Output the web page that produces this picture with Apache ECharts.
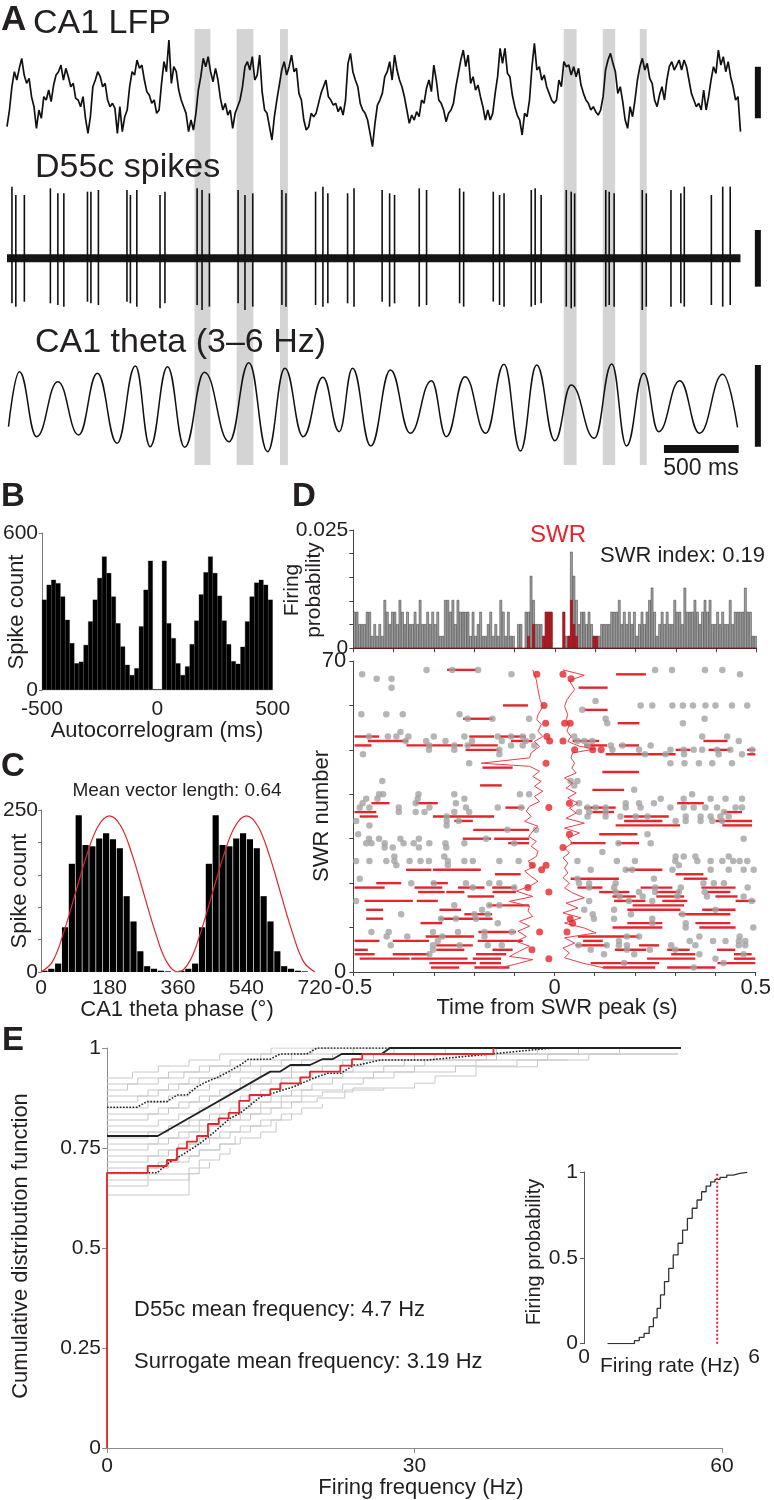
<!DOCTYPE html>
<html><head><meta charset="utf-8">
<script src="https://cdn.jsdelivr.net/npm/echarts@6/dist/echarts.min.js"></script>
<style>html,body{margin:0;padding:0;background:#fff}#c{width:774px;height:1500px}</style>
</head><body><div id="c"></div>
<script>
// ---------------- DATA ----------------
// Panel A: CA1 LFP samples (arbitrary uV units), one every lfpDt ms
const lfpDt = 16.4;
const lfp = [-80,-30,40,85,60,95,125,75,50,65,10,-20,-85,-30,-55,10,0,30,-5,45,
75,85,105,60,95,70,40,50,5,0,-20,10,-55,-100,-50,40,60,85,70,40,
50,0,-20,-10,-25,-100,-20,-95,-50,-30,40,85,75,120,95,105,60,25,15,-10,
0,-40,-30,50,115,85,180,50,100,85,30,0,-20,-40,-95,-60,-90,-40,30,70,
125,100,130,85,55,95,60,5,-30,-10,-45,-30,-85,-40,-20,0,40,100,115,90,
130,60,75,135,25,-30,-40,-80,-120,-50,0,45,90,115,75,100,135,85,95,20,
0,-60,-90,-80,-40,-50,-40,-10,20,40,60,10,0,-15,-10,-35,-20,-45,0,110,
140,85,60,40,-10,-30,-40,-60,-100,-140,-70,-15,0,20,70,85,115,60,135,90,
60,40,10,-30,-70,-45,-60,-35,-50,0,-10,35,60,25,105,60,0,-10,-30,-65,
-40,-30,-10,40,80,120,150,100,135,50,70,30,45,10,-20,-60,-30,-60,-40,20,
70,155,110,155,80,70,15,-20,-45,-60,-105,-40,-50,0,100,170,90,100,60,75,
40,20,0,-10,0,60,40,115,100,105,75,100,70,95,45,20,0,-10,-30,-20,
-35,-45,-30,10,90,120,140,110,85,20,40,-5,-60,-85,-20,-50,0,60,100,125,
90,110,65,50,0,-20,15,40,0,60,100,115,90,105,120,90,120,100,60,20,
0,-20,-10,-30,30,-30,10,60,100,80,150,105,130,85,115,70,40,0,10,-95];
// D55c spikes: time (ms), upward and downward deflection
const spikeT = [33,59,116,290,340,380,538,561,611,802,825,868,1023,1056,1271,1304,1353,1545,1591,1643,1838,1865,2063,2112,2145,2277,2320,2508,2558,2591,2756,2805,3026,3053,3251,3293,3323,3505,3531,3571,3739,3772,3795,4003,4026,4059,4247,4274,4439,4505,4528,4709,4785,4835];
const spikeUp = [215,190,190,210,195,195,200,200,205,205,190,205,190,200,210,205,195,205,190,195,205,195,200,215,195,195,210,205,195,190,210,205,210,200,200,190,195,205,210,190,205,200,195,205,200,195,205,195,205,195,215,190,215,215];
const spikeDown = [-135,-145,-130,-135,-140,-145,-130,-135,-140,-130,-135,-145,-150,-135,-140,-155,-145,-135,-155,-145,-140,-145,-140,-145,-135,-135,-145,-130,-145,-135,-145,-140,-135,-145,-130,-140,-145,-145,-140,-135,-145,-150,-145,-145,-140,-145,-155,-145,-145,-135,-145,-140,-145,-140];
// CA1 theta: peaks and troughs [ms, value]
const theta = [[10,-55],[83,110],[198,-85],[340,80],[479,-80],[604,105],[736,-105],[858,127],[957,-115],[1073,125],[1188,-117],[1320,108],[1485,-100],[1617,137],[1742,-130],[1858,120],[1980,-85],[2112,93],[2221,-70],[2310,120],[2432,-113],[2564,115],[2696,-75],[2838,83],[2937,-85],[3062,95],[3201,-75],[3323,132],[3432,-128],[3541,130],[3663,-97],[3772,70],[3927,-90],[4043,133],[4142,-113],[4257,105],[4356,-70],[4498,83],[4630,-75],[4785,102],[4884,-57]];
// SWR windows (grey bands) [start ms, end ms]
const swrBands = [[1254,1360],[1535,1647],[1825,1878],[3722,3808],[3983,4066],[4231,4277]];
// scale bars
const barT = 5020;               // x position of vertical scale bars (ms)
const lfpBar = [100,-55], spikeBar = [85,-85], thetaBar = [130,-115];
const msBarStart = 4392, msBarLen = 500, msBarLevel = -122;

// Panel B: autocorrelogram, 20 ms bins from -500 to 500
const acg = [345,402,421,408,357,268,179,102,108,172,262,345,428,510,447,357,255,166,96,57,83,243,383,494,3,
3,494,255,198,102,57,90,175,265,365,450,510,447,360,265,175,110,100,165,262,357,410,421,402,345];

// Panel C: phase histogram, 18 degree bins over one cycle (plotted twice)
const phaseHist = [2,5,13,69,167,242,196,194,206,214,205,191,117,78,32,9,5,2,1,0];
const thetaRef = [[0,0],[30,16],[60,62],[90,121],[120,180],[150,225],[180,241],[210,225],[240,180],[270,121],[300,62],[330,16],[360,0],[390,16],[420,62],[450,121],[480,180],[510,225],[540,241],[570,225],[600,180],[630,121],[660,62],[690,16],[720,0]];

// Panel D: peri-SWR firing probability, 160 bins (-0.5..0.5 s)
const swrProb = [.0077,.0077,.0051,.0051,.0051,.0077,.0077,.0026,.0051,.0026,
.0051,.0026,.0102,.0077,.0051,.0077,.0077,.0051,.0102,.0077,
.0051,.0077,.0051,.0051,.0077,.0051,.0102,.0051,.0051,.0077,
.0051,.0077,.0051,.0077,.0026,.0026,.0102,.0102,.0077,.0102,
.0051,.0102,.0077,.0077,.0077,.0077,.0026,.0077,.0026,.0051,
.0077,.0026,.0026,.0051,.0077,.0026,.0051,.0026,.0102,.0077,
.0026,.0077,.0026,.0026,0,.0051,.0051,0,.0077,.0077,
.0153,.0102,.0051,.0051,.0051,.0026,.0077,.0077,.0077,0,
0,0,0,.0077,.0026,.0026,.0204,.0153,.0102,.0051,
.0077,.0077,.0051,.0077,.0051,.0026,.0026,.0026,.0051,.0051,
.0051,.0051,.0077,.0077,.0077,.0102,.0051,.0077,.0051,.0077,
.0051,.0077,.0026,.0051,.0077,.0051,.0077,.0102,.0128,.0077,
.0026,.0051,.0077,.0051,.0077,.0051,.0051,.0102,.0077,.0077,
.0051,.0128,.0077,.0077,.0077,.0102,.0077,.0051,.0077,.0102,
.0077,.0102,.0051,.0051,.0077,.0051,.0077,.0051,.0051,.0102,
.0051,.0077,.0077,.0077,.0077,.0128,.0077,.0077,.0026,.0026];
const swrProbIn = [0,0,0,0,0,0,0,0,0,0, 0,0,0,0,0,0,0,0,0,0, 0,0,0,0,0,0,0,0,0,0, 0,0,0,0,0,0,0,0,0,0,
0,0,0,0,0,0,0,0,0,0, 0,0,0,0,0,0,0,0,0,0, 0,0,0,0,0,0,0,0,0,.0026,
0,.0051,0,0,0,.0026,.0077,.0077,.0077,0, 0,0,0,.0077,0,.0026,.0102,.0051,.0026,0,
0,0,0,0,0,.0026,.0026,0,0,0, 0,0,0,0,0,0,0,0,0,0, 0,0,0,0,0,0,0,0,0,0,
0,0,0,0,0,0,0,0,0,0, 0,0,0,0,0,0,0,0,0,0, 0,0,0,0,0,0,0,0,0,0, 0,0,0,0,0,0,0,0,0,0];
// raster: spikes outside SWRs [t, SWR#]
const rasterGrey = [[-0.318,68],[-0.254,68],[-0.19,68],[0.25,68],[0.292,68],[0.374,68],[0.417,68],
[-0.478,67],[-0.107,67],[0.461,67],[-0.442,66],[-0.405,66],[-0.405,64],[0.102,61],
[0.214,60],[0.243,60],[0.293,60],[0.319,60],[0.344,60],[0.375,60],[0.4,60],[0.441,60],[0.479,60],[0.069,59],
[-0.48,58],[-0.418,58],[-0.377,58],[-0.236,58],
[-0.216,57],[-0.154,57],[-0.063,57],[0.127,57],[0.373,57],[0.131,56],[0.319,56],[-0.383,54],
[-0.461,53],[-0.414,53],[-0.393,53],[-0.363,53],[-0.3,53],[-0.224,53],[-0.141,53],[-0.108,53],[-0.079,53],[-0.055,53],[0.049,53],[0.367,53],[0.429,53],
[-0.37,52],[-0.319,52],[-0.271,52],[-0.205,52],[-0.131,52],[-0.071,52],[0.057,52],[0.074,52],[0.094,52],[0.458,52],
[-0.311,51],[-0.249,51],[-0.216,51],[-0.108,51],[-0.079,51],[-0.05,51],[0.082,51],[0.14,51],[0.169,51],[0.239,51],
[-0.312,50],[-0.249,50],[-0.137,50],[0.144,50],[0.21,50],[0.288,50],[0.321,50],[0.346,50],[0.367,50],[0.404,50],[0.437,50],[0.491,50],
[-0.476,49],[-0.137,49],[0.225,49],[0.276,49],[0.322,49],[0.408,49],[0.466,49],
[-0.212,47],[0.288,47],[0.323,47],[0.359,47],[0.392,47],[0.441,47],
[-0.428,43],[0.04,43],[0.057,43],[0.049,42],[0.198,41],
[-0.436,40],[-0.426,40],[-0.338,40],[-0.249,40],[-0.086,40],[-0.063,40],[0.342,40],
[-0.468,39],[-0.44,39],[-0.34,39],[-0.224,39],[0.264,39],[0.321,39],[0.388,39],[0.425,39],[0.466,39],
[-0.477,38],[-0.345,38],[-0.245,38],[0.061,38],[0.177,38],[0.21,38],[0.247,38],
[-0.484,37],[-0.46,37],[-0.387,37],[-0.311,37],[-0.22,37],[-0.141,37],[-0.083,37],[0.082,37],[0.102,37],[0.127,37],[0.177,37],[0.214,37],[0.288,37],[0.321,37],[0.346,37],[0.375,37],[0.404,37],[0.45,37],[0.466,37],
[-0.387,36],[-0.345,36],[-0.323,36],[-0.249,36],[-0.212,36],[0.061,36],[0.086,36],[0.127,36],[0.421,36],
[-0.268,35],[0.082,35],[0.127,35],[0.164,35],[0.202,35],[0.231,35],[0.326,35],[0.363,35],[0.388,35],[0.412,35],[0.433,35],
[-0.493,34],[-0.268,34],[-0.238,34],[0.301,34],[0.326,34],[0.363,34],[0.392,34],[0.417,34],
[-0.46,33],[-0.268,33],[-0.117,32],[-0.046,32],[-0.488,31],[0.231,31],
[-0.461,30],[-0.436,30],[-0.383,30],[-0.337,30],[-0.17,30],[0.47,30],
[-0.468,29],[-0.455,29],[-0.422,29],[-0.375,29],[-0.35,29],[-0.311,29],[-0.271,29],[-0.224,29],[-0.1,29],[0.159,29],[0.239,29],
[-0.422,28],[-0.402,28],[-0.337,28],[-0.269,28],[0.119,27],
[-0.398,26],[-0.274,26],[0.301,26],[0.321,26],[0.35,26],[0.433,26],
[-0.493,25],[-0.46,25],[-0.418,25],[-0.398,25],[-0.36,25],[-0.333,25],[-0.312,25],[-0.265,25],[-0.224,25],[-0.203,25],[-0.137,25],[-0.089,25],[0.057,25],[0.155,25],[0.2,25],[0.3,25],[0.355,25],[0.388,25],[0.417,25],[0.444,25],[0.46,25],[0.479,25],
[-0.393,24],[-0.265,24],[0.309,24],
[0.09,23],[0.177,23],[0.193,23],[0.293,23],[0.388,23],[0.433,23],[0.47,23],[0.495,23],
[-0.484,21],[0.057,21],[0.247,21],
[-0.356,20],[-0.3,20],[-0.22,20],[-0.162,20],[-0.137,20],[0.061,20],[0.086,20],[0.152,20],[0.37,20],[0.396,20],[0.421,20],
[-0.203,19],[-0.1,19],[0.086,19],[0.148,19],[0.25,19],[0.314,19],[0.48,19],
[0.152,18],[0.21,18],[0.25,18],[0.309,18],[0.373,18],
[0.162,17],[0.219,17],[0.305,17],[0.379,17],[0.47,17],
[-0.493,16],[0.086,16],[0.185,16],[0.243,16],[0.49,16],
[-0.249,15],[-0.162,15],[-0.137,15],
[-0.18,14],[0.074,14],[0.148,14],[0.4,14],
[-0.381,13],[-0.199,13],[-0.166,13],[0.095,13],[0.19,13],[0.318,13],
[-0.282,12],[-0.245,12],[-0.195,12],[0.098,12],[0.148,12],[0.243,12],
[-0.141,11],[0.243,11],[0.326,11],[0.326,10],[0.494,10],
[-0.455,9],[-0.412,9],[-0.302,9],[-0.24,9],[-0.174,9],[-0.106,9],
[-0.417,8],[-0.366,8],[-0.279,8],[-0.174,8],[0.18,8],[0.21,8],[0.36,8],[0.46,8],
[-0.29,7],[0.16,7],[0.336,7],[0.394,7],[0.425,7],[0.458,7],[0.474,7],
[-0.407,6],[-0.302,6],[-0.236,6],[-0.166,6],[-0.131,6],[0.06,6],[0.13,6],[0.16,6],[0.18,6],[0.29,6],[0.35,6],[0.458,6],[0.474,6],
[-0.302,5],[0.09,5],[0.18,5],[0.237,5],[0.3,5],
[-0.311,4],[0.123,4],[0.198,4],[0.36,4],[0.47,4],
[0.4,3],[0.173,2],[0.42,2],[0.346,1]];
// raster: other SWR events [t start, t end, SWR#]
const rasterSeg = [[-0.267,-0.194,68],[0.153,0.227,67],[0.06,0.132,64],[-0.128,-0.066,60],[0.074,0.132,59],[-0.227,-0.153,57],[0.157,0.211,56],
[-0.497,-0.436,53],[-0.212,-0.15,53],[-0.137,-0.071,53],
[-0.464,-0.364,52],[-0.108,-0.055,52],[0.045,0.111,52],[0.37,0.43,52],
[-0.497,-0.455,51],[-0.368,-0.228,51],[-0.22,-0.141,51],[0.074,0.131,51],[0.16,0.21,51],
[-0.221,-0.137,50],[0.301,0.338,50],[0.383,0.437,50],[0.479,0.499,50],
[0.127,0.301,49],[0.479,0.499,49],[-0.179,-0.104,46],[0.119,0.21,45],[-0.185,-0.131,42],[0.094,0.173,41],
[-0.455,-0.41,38],[-0.345,-0.29,38],[0.305,0.371,38],
[-0.122,-0.075,37],[0.074,0.152,37],
[-0.497,-0.443,36],[0.094,0.148,36],[0.421,0.466,36],
[-0.484,-0.439,35],[-0.302,-0.15,35],[0.173,0.284,35],
[-0.249,-0.203,34],[0.173,0.268,34],[0.4,0.491,34],
[0.152,0.312,33],[0.417,0.491,33],[-0.202,-0.063,32],[0.111,0.206,31],
[-0.228,-0.158,30],[-0.15,-0.063,30],
[-0.115,-0.063,29],[0.04,0.127,29],[0.155,0.21,29],
[-0.369,-0.306,23],[-0.302,-0.183,23],[0.177,0.268,23],
[-0.148,-0.084,22],[0.301,0.37,22],[0.04,0.16,21],[0.321,0.38,21],
[-0.443,-0.381,20],[-0.307,-0.265,20],
[-0.497,-0.422,19],[-0.348,-0.279,19],[-0.24,-0.174,19],[-0.155,-0.096,19],[0.057,0.119,19],[0.214,0.293,19],[0.365,0.45,19],
[-0.339,-0.273,18],[-0.269,-0.224,18],[-0.154,-0.096,18],[0.111,0.186,18],[0.253,0.312,18],[0.38,0.437,18],
[-0.216,-0.15,17],[0.144,0.202,17],[0.253,0.322,17],[0.4,0.455,17],
[-0.472,-0.352,16],[-0.342,-0.29,16],[0.148,0.226,16],[0.268,0.33,16],[0.45,0.499,16],
[-0.166,-0.063,15],[0.194,0.322,15],
[-0.468,-0.426,14],[-0.286,-0.232,14],[0.181,0.313,14],[0.367,0.45,14],
[-0.224,-0.155,13],[0.309,0.437,13],
[-0.468,-0.426,12],[-0.286,-0.154,12],
[-0.333,-0.279,11],[0.181,0.268,11],[0.35,0.437,11],
[0.144,0.268,10],[0.36,0.45,10],[-0.189,-0.096,9],
[-0.32,-0.2,8],[0.058,0.21,8],
[-0.497,-0.435,7],[-0.402,-0.312,7],[-0.191,-0.079,7],[0.071,0.12,7],
[-0.294,-0.203,6],[0.052,0.13,6],[0.21,0.26,6],
[-0.497,-0.464,5],[-0.294,-0.224,5],[-0.154,-0.104,5],[0.15,0.228,5],[0.28,0.336,5],[0.404,0.449,5],
[-0.497,-0.447,4],[-0.402,-0.312,4],[-0.195,-0.12,4],[0.29,0.35,4],[0.446,0.49,4],
[-0.484,-0.36,3],[-0.356,-0.216,3],[-0.203,-0.133,3],[0.23,0.35,3],[0.446,0.499,3],
[-0.311,-0.195,2],[-0.186,-0.133,2],[0.09,0.26,2],[0.405,0.499,2],
[-0.307,-0.237,1],[-0.199,-0.112,1],[0.12,0.25,1],[0.28,0.4,1]];
// raster: spikes inside the SWR [t, SWR#]
const rasterRed = [[-0.044,67],[0.021,67],[0.041,66],[-0.026,60],[-0.022,56],[0.025,56],[0.039,56],[-0.019,53],[-0.012,52],[0.021,52],[0.05,50],[0.095,50],[0.116,50],[-0.021,47],[-0.014,37],[0.037,38],[0.037,31],[0.021,28],[-0.055,24],[-0.021,24],[-0.032,23],[-0.066,19],[-0.014,18],[0.039,12],[0.045,11],[-0.037,9],[0.031,9],[-0.056,5],[-0.014,3]];
// SWR start / end borders [t, SWR#]
const swrStart = [[-0.054,68],[-0.045,65.7],[-0.041,63.5],[-0.036,61.3],[-0.029,59.8],[-0.041,57.9],[-0.044,56.8],[-0.033,55.7],[-0.041,54.2],[-0.029,53],[-0.05,51.9],[-0.037,50.8],[-0.058,49.3],[-0.062,48.2],[-0.182,47],[-0.062,46.3],[-0.037,45.2],[-0.054,44],[-0.033,42.9],[-0.05,41.8],[-0.029,40.7],[-0.05,39.5],[-0.037,38.4],[-0.062,37.3],[-0.07,36.2],[-0.058,35],[-0.074,33.9],[-0.041,32.8],[-0.054,31.7],[-0.064,30.5],[-0.045,29.4],[-0.058,28.3],[-0.041,27.2],[-0.045,26],[-0.066,24.9],[-0.05,23.8],[-0.074,22.7],[-0.058,21.5],[-0.041,20.4],[-0.062,19.3],[-0.095,18.2],[-0.054,17],[-0.112,15.9],[-0.062,14.8],[-0.066,13.7],[-0.054,12.5],[-0.087,11.4],[-0.062,10.3],[-0.091,9.2],[-0.07,8],[-0.095,6.9],[-0.062,5.8],[-0.087,4.7],[-0.112,3.5],[-0.054,2.8],[-0.099,1.7],[-0.14,0.9]];
const swrEnd = [[0.021,68],[0.074,66.8],[0.037,65.6],[0.05,63.6],[0.031,61.3],[0.025,59.8],[0.033,57.9],[0.029,56.8],[0.037,55.7],[0.031,54.2],[0.041,53],[0.033,51.9],[0.062,50.8],[0.1,50.2],[0.045,49.3],[0.041,48.2],[0.05,47],[0.043,45.9],[0.054,44.8],[0.025,43.7],[0.045,42.5],[0.029,41.4],[0.054,40.3],[0.033,39.2],[0.058,38],[0.037,36.9],[0.054,35.8],[0.029,34.6],[0.074,33.5],[0.025,32.4],[0.062,31.3],[0.033,30.2],[0.045,29],[0.025,27.9],[0.037,26.8],[0.021,25.7],[0.033,24.5],[0.025,23.4],[0.033,22.3],[0.021,21.2],[0.037,20],[0.025,18.9],[0.045,17.8],[0.074,16.7],[0.029,15.5],[0.058,14.4],[0.021,13.3],[0.066,12.2],[0.025,11],[0.074,9.9],[0.103,8.8],[0.025,7.7],[0.05,6.5],[0.021,5.4],[0.037,4.3],[0.025,3.2],[0.07,2],[0.124,0.9]];

// Panel E: CDFs of firing frequency [Hz, cumulative probability]
const d55cCdf = [[0,0],[0,0.688],[3.97,0.705],[5.85,0.72],[6.83,0.749],[7.8,0.766],[8.78,0.78],[9.85,0.81],[10.9,0.824],[11.87,0.838],[12.9,0.868],[13.9,0.8825],[15.93,0.897],[16.9,0.9117],[18.86,0.9267],[19.8,0.941],[22.76,0.956],[23.9,0.972],[24.9,0.985],[37.7,1]];
const surrMean = [[0,0.78],[4.94,0.78],[15.93,0.941],[16.9,0.941],[17.9,0.9575],[19.8,0.9575],[21,0.972],[22,0.972],[22.9,0.985],[26.8,0.985],[27.6,1],[56,1]];
const surrUpper = [[0,0.852],[2.93,0.852],[3.9,0.866],[5.85,0.866],[6.83,0.8825],[7.8,0.8825],[8.78,0.903],[9.76,0.916],[10.9,0.928],[11.87,0.941],[13,0.9575],[13.8,0.972],[15.9,0.972],[16.9,0.985],[19.5,0.985],[20.5,1],[56,1]];
const surrLower = [[0,0.688],[4.9,0.688],[5.2,0.695],[6.2,0.716],[7.15,0.73],[8.1,0.745],[9.1,0.762],[10.1,0.782],[11.05,0.803],[12,0.824],[13,0.837],[14.96,0.878],[16.3,0.888],[18.2,0.903],[20.2,0.925],[21.5,0.9367],[22.8,0.9367],[24.1,0.9575],[24.5,0.9575],[26.7,0.97],[31.3,0.97],[43.5,1],[56,1]];
const surrogateCdfs = [
 [[0,0.925],[2.5,0.94],[5,0.955],[8,0.97],[11,0.985],[16,1],[22,1]],
 [[0,0.91],[3,0.925],[6,0.94],[9,0.955],[12,0.97],[15,0.985],[20,1],[26,1]],
 [[0,0.895],[2,0.91],[5,0.925],[7.5,0.94],[10,0.955],[14,0.97],[18,0.985],[24,1],[30,1]],
 [[0,0.88],[4,0.895],[6,0.91],[8,0.925],[11,0.94],[13,0.955],[17,0.97],[22,0.985],[28,1],[34,1]],
 [[0,0.865],[3,0.88],[5,0.895],[7,0.91],[9,0.925],[12,0.94],[15,0.955],[19,0.97],[26,0.985],[33,1],[40,1]],
 [[0,0.85],[4,0.865],[6,0.88],[8,0.895],[10,0.91],[13,0.925],[15,0.94],[18,0.955],[23,0.97],[30,0.985],[38,1],[44,1]],
 [[0,0.835],[5,0.85],[7,0.865],[9,0.88],[11,0.895],[13,0.91],[16,0.925],[18,0.94],[21,0.955],[25,0.97],[32,0.985],[42,1],[48,1]],
 [[0,0.82],[4,0.835],[6,0.85],[8,0.865],[10,0.88],[12,0.895],[14,0.91],[17,0.925],[20,0.94],[24,0.955],[29,0.97],[37,0.985],[46,1],[52,1]],
 [[0,0.805],[5,0.82],[7,0.835],[9,0.85],[11,0.865],[13,0.88],[15,0.895],[17,0.91],[19,0.925],[23,0.94],[27,0.955],[31,0.97],[38,0.985],[50,1],[55.7,1]],
 [[0,0.79],[6,0.805],[8,0.82],[10,0.835],[12,0.85],[14,0.865],[16,0.88],[18,0.895],[20,0.91],[22,0.925],[26,0.94],[30,0.955],[36,0.97],[43,0.985],[55.7,0.985]],
 [[0,0.775],[4,0.79],[6,0.805],[9,0.82],[11,0.835],[13,0.85],[15,0.865],[17,0.88],[19,0.895],[23,0.91],[25,0.925],[28,0.94],[34,0.955],[40,0.97],[47,0.985],[55.7,0.985]],
 [[0,0.76],[5,0.775],[7,0.79],[9,0.805],[11,0.82],[13,0.835],[15,0.85],[17,0.865],[19,0.88],[21,0.89],[24,0.9],[30,0.912],[32,0.93],[36,0.953],[42,0.97],[45,0.97]],
 [[0,0.745],[4,0.76],[6,0.775],[8,0.79],[10,0.805],[12,0.82],[14,0.835],[16,0.85],[18,0.865],[20.5,0.875],[23.2,0.895],[27,0.9]],
 [[0,0.73],[5,0.745],[7,0.76],[9,0.775],[11,0.79],[13,0.805],[15,0.82],[17,0.835],[19,0.85],[21,0.86]],
 [[0,0.715],[4,0.73],[6,0.745],[8,0.76],[10,0.775],[12,0.79],[14,0.805],[16,0.82],[18,0.835]],
 [[0,0.7],[5,0.715],[7,0.73],[9,0.745],[11,0.76],[13,0.775],[15,0.79],[16.5,0.815]],
 [[0,0.685],[4,0.7],[6,0.715],[8,0.73],[9,0.745],[11,0.76],[12.5,0.78]],
 [[0,0.67],[4,0.685],[8,0.7],[9,0.72],[11,0.735],[12,0.75]],
 [[0,0.655],[4,0.67],[8,0.686],[9,0.7],[10,0.715]],
 [[0,0.6325],[8,0.6325],[8,0.686],[9,0.686]]
];
// inset: surrogate mean firing rate distribution [Hz, cumulative prob]
const rateCdf = [[0.83,0],[1.6,0],[1.78,0.018],[1.95,0.037],[2.12,0.06],[2.3,0.1],[2.45,0.15],[2.58,0.206],[2.7,0.284],[2.84,0.361],[2.99,0.439],[3.15,0.517],[3.32,0.585],[3.48,0.662],[3.65,0.73],[3.82,0.789],[3.99,0.837],[4.15,0.885],[4.31,0.918],[4.47,0.943],[4.62,0.957],[4.8,0.969],[5.04,0.982],[5.27,0.992],[5.5,0.998],[5.76,1.0]];
const d55cMean = 4.7;

// ---------------- CHART ----------------
const FONT = '"Liberation Sans", Arial, Helvetica, sans-serif';
const INK = '#231f20';
const RED = '#e3262d';
const AX = '#444';
const chart = echarts.init(document.getElementById('c'), null, {renderer: 'canvas'});

function lbl(size, extra) { return Object.assign({fontFamily: FONT, fontSize: size, color: INK}, extra || {}); }
function hid(grid, min, max) { return {gridIndex: grid, type: 'value', min: min, max: max, show: false}; }
function near(a, b) { return Math.abs(a - b) < 1e-9; }
function line(color) { return {onZero: false, lineStyle: {color: color, width: 1}}; }
function tick(color, len) { return {show: true, length: len, lineStyle: {color: color, width: 1}}; }

const idx = (n) => Array.from({length: n}, (_, i) => String(i));

const xAxis = [
  hid(0, 0, 5081), hid(1, 0, 5081), hid(2, 0, 5081), hid(3, 0, 5081),
  {gridIndex: 4, type: 'category', data: idx(acg.length), show: false, position: 'bottom'},
  {gridIndex: 4, type: 'value', min: -500, max: 500, interval: 500, position: 'bottom', axisLine: {show: false, onZero: false}, axisTick: {show: false}, splitLine: {show: false}, axisLabel: lbl(21, {margin: 9})},
  {gridIndex: 5, type: 'category', data: idx(phaseHist.length * 2), show: false, position: 'bottom'},
  {gridIndex: 5, type: 'value', min: 0, max: 720, interval: 180, position: 'bottom', axisLine: {show: false, onZero: false}, axisTick: {show: false}, splitLine: {show: false}, axisLabel: lbl(21, {margin: 6})},
  {gridIndex: 6, type: 'category', data: idx(swrProb.length), show: false, position: 'bottom'},
  {gridIndex: 6, type: 'value', min: -0.5, max: 0.5, interval: 0.1, position: 'bottom', axisLine: line(AX), axisTick: tick(AX, 4), splitLine: {show: false}, axisLabel: {show: false}},
  {gridIndex: 7, type: 'value', min: -0.5, max: 0.5, interval: 0.1, axisLine: line(AX), axisTick: tick(AX, 4), splitLine: {show: false},
    axisLabel: lbl(22, {margin: 5, formatter: v => near(v, -0.5) ? '-0.5' : near(v, 0) ? '0' : near(v, 0.5) ? '0.5' : ''})},
  {gridIndex: 8, type: 'value', min: 0, max: 60, interval: 30, axisLine: line('#8c8c8c'), axisTick: tick('#8c8c8c', 5), splitLine: {show: false}, axisLabel: lbl(21, {margin: 8})},
  {gridIndex: 9, type: 'value', min: 0, max: 6, interval: 6, axisLine: {show: false, onZero: false}, axisTick: {show: false}, splitLine: {show: false}, axisLabel: lbl(21, {margin: 3})}
];
const yAxis = [
  hid(0, 0, 1), hid(1, -150, 190), hid(2, -200, 250), hid(3, -150, 150),
  {gridIndex: 4, type: 'value', min: 0, max: 600, interval: 600, axisLine: Object.assign({show: true}, line('#777')), axisTick: tick('#777', 3), splitLine: {show: false}, axisLabel: lbl(21, {margin: 4})},
  {gridIndex: 5, type: 'value', min: 0, max: 250, interval: 50, axisLine: Object.assign({show: true}, line('#777')), axisTick: tick('#777', 3), splitLine: {show: false},
    axisLabel: lbl(21, {margin: 3, formatter: v => (v === 0 || v === 250) ? String(v) : ''})},
  {gridIndex: 6, type: 'value', min: 0, max: 0.025, interval: 0.005, axisLine: Object.assign({show: true}, line(AX)), axisTick: tick(AX, 4), splitLine: {show: false},
    axisLabel: lbl(21, {margin: 5, formatter: v => near(v, 0) ? '0' : near(v, 0.025) ? '0.025' : ''})},
  {gridIndex: 7, type: 'value', min: 0, max: 70, interval: 10, axisLine: Object.assign({show: true}, line(AX)), axisTick: tick(AX, 4), splitLine: {show: false},
    axisLabel: lbl(22, {margin: 7, formatter: v => (v === 0 || v === 70) ? String(v) : ''})},
  {gridIndex: 8, type: 'value', min: 0, max: 1, interval: 0.25, axisLine: Object.assign({show: true}, line('#8c8c8c')), axisTick: tick('#8c8c8c', 5), splitLine: {show: false}, axisLabel: lbl(21, {margin: 6})},
  {gridIndex: 9, type: 'value', min: 0, max: 1, interval: 0.5, axisLine: Object.assign({show: true}, line('#555')), axisTick: tick('#555', 4), splitLine: {show: false}, axisLabel: lbl(21, {margin: 6})}
];
const grid = [
  {left: 7, top: 29, width: 760, height: 436},
  {left: 7, top: 36.7, width: 760, height: 113.3},
  {left: 7, top: 175, width: 760, height: 150},
  {left: 7, top: 358.3, width: 760, height: 100},
  {left: 40.7, top: 533, width: 232, height: 157},
  {left: 39.3, top: 810, width: 275.7, height: 162},
  {left: 353.3, top: 530, width: 403.4, height: 118.3},
  {left: 353.3, top: 661, width: 403.4, height: 311},
  {left: 107, top: 1048, width: 615, height: 400},
  {left: 584, top: 1172, width: 170, height: 171.7}
];

function vbar(xi, yi, pts, w) {
  return {type: 'line', xAxisIndex: xi, yAxisIndex: yi, data: pts, showSymbol: false, silent: true, z: 5,
    lineStyle: {color: '#111', width: w, cap: 'butt'}};
}

const series = [];
// A: SWR bands
series.push({type: 'custom', xAxisIndex: 0, yAxisIndex: 0, z: 0, silent: true,
  data: swrBands.map(b => [b[0], b[1], 0, 1]), encode: {x: [0, 1], y: [2, 3]},
  renderItem: (p, api) => {
    const a = api.coord([api.value(0), api.value(3)]);
    const b = api.coord([api.value(1), api.value(2)]);
    return {type: 'rect', shape: {x: a[0], y: a[1], width: b[0] - a[0], height: b[1] - a[1]}, style: {fill: '#d4d4d4'}};
  }});
// A: LFP
series.push({type: 'line', xAxisIndex: 1, yAxisIndex: 1, z: 3, showSymbol: false, silent: true,
  data: lfp.map((v, i) => [i * lfpDt, v]), lineStyle: {color: '#111', width: 1.7}});
series.push(vbar(1, 1, [[barT, lfpBar[0]], [barT, lfpBar[1]]], 6));
// A: spikes
series.push({type: 'line', xAxisIndex: 2, yAxisIndex: 2, z: 3, showSymbol: false, silent: true,
  data: [[0, 0], [lfpDt * (lfp.length - 1), 0]], lineStyle: {color: '#151515', width: 8, cap: 'butt'}});
series.push({type: 'custom', xAxisIndex: 2, yAxisIndex: 2, z: 4, silent: true,
  data: spikeT.map((t, i) => [t, spikeUp[i], spikeDown[i]]), encode: {x: 0, y: [1, 2]},
  renderItem: (p, api) => {
    const a = api.coord([api.value(0), api.value(1)]);
    const b = api.coord([api.value(0), api.value(2)]);
    return {type: 'line', shape: {x1: a[0], y1: a[1], x2: b[0], y2: b[1]}, style: {stroke: '#111', lineWidth: 1.6}};
  }});
series.push(vbar(2, 2, [[barT, spikeBar[0]], [barT, spikeBar[1]]], 6));
// A: theta
series.push({type: 'line', xAxisIndex: 3, yAxisIndex: 3, z: 3, showSymbol: false, silent: true, smooth: 0.45, smoothMonotone: 'x',
  data: theta, lineStyle: {color: '#111', width: 1.5}});
series.push(vbar(3, 3, [[barT, thetaBar[0]], [barT, thetaBar[1]]], 6));
series.push(vbar(3, 3, [[msBarStart, msBarLevel], [msBarStart + msBarLen, msBarLevel]], 8));
// B
series.push({type: 'bar', xAxisIndex: 4, yAxisIndex: 4, data: acg, barCategoryGap: '0%', silent: true,
  itemStyle: {color: '#000', borderColor: '#000', borderWidth: 0.3}});
// C
series.push({type: 'bar', xAxisIndex: 6, yAxisIndex: 5, data: phaseHist.concat(phaseHist), barCategoryGap: '10%', silent: true,
  itemStyle: {color: '#000'}});
series.push({type: 'line', xAxisIndex: 7, yAxisIndex: 5, data: thetaRef, smooth: 0.4, showSymbol: false, silent: true, z: 4,
  lineStyle: {color: '#e0242b', width: 1.2}});
// D histogram
series.push({type: 'bar', xAxisIndex: 8, yAxisIndex: 6, data: swrProb, barCategoryGap: '0%', barGap: '-100%', silent: true,
  itemStyle: {color: '#a3a3a3', borderColor: '#333', borderWidth: 0.5}});
series.push({type: 'bar', xAxisIndex: 8, yAxisIndex: 6, data: swrProbIn, barCategoryGap: '0%', barGap: '-100%', silent: true,
  itemStyle: {color: '#c4161c', borderColor: '#7a0d10', borderWidth: 0.5}});
// D raster
series.push({type: 'custom', xAxisIndex: 10, yAxisIndex: 7, z: 3, silent: true, data: rasterSeg, encode: {x: [0, 1], y: 2},
  renderItem: (p, api) => {
    const a = api.coord([api.value(0), api.value(2)]);
    const b = api.coord([api.value(1), api.value(2)]);
    return {type: 'line', shape: {x1: a[0], y1: a[1], x2: b[0], y2: b[1]}, style: {stroke: RED, lineWidth: 2.4}};
  }});
series.push({type: 'scatter', xAxisIndex: 10, yAxisIndex: 7, z: 4, silent: true, data: rasterGrey, symbolSize: 6.5,
  itemStyle: {color: '#a2a2a2'}});
series.push({type: 'line', xAxisIndex: 10, yAxisIndex: 7, z: 5, silent: true, data: swrStart, showSymbol: false,
  lineStyle: {color: '#e8404a', width: 1}});
series.push({type: 'line', xAxisIndex: 10, yAxisIndex: 7, z: 5, silent: true, data: swrEnd, showSymbol: false,
  lineStyle: {color: '#e8404a', width: 1}});
series.push({type: 'scatter', xAxisIndex: 10, yAxisIndex: 7, z: 6, silent: true, data: rasterRed, symbolSize: 7,
  itemStyle: {color: RED}});
// E
surrogateCdfs.forEach(d => series.push({type: 'line', xAxisIndex: 11, yAxisIndex: 8, data: d, step: 'end', showSymbol: false, silent: true, z: 2,
  lineStyle: {color: '#c8c8c8', width: 1}}));
series.push({type: 'line', xAxisIndex: 11, yAxisIndex: 8, data: surrLower, showSymbol: false, silent: true, z: 4,
  lineStyle: {color: '#222', width: 1.6, type: 'dotted'}});
series.push({type: 'line', xAxisIndex: 11, yAxisIndex: 8, data: surrUpper, showSymbol: false, silent: true, z: 4,
  lineStyle: {color: '#222', width: 1.6, type: 'dotted'}});
series.push({type: 'line', xAxisIndex: 11, yAxisIndex: 8, data: surrMean, showSymbol: false, silent: true, z: 4,
  lineStyle: {color: '#222', width: 1.8}});
series.push({type: 'line', xAxisIndex: 11, yAxisIndex: 8, data: d55cCdf, step: 'end', showSymbol: false, silent: true, z: 5,
  lineStyle: {color: RED, width: 1.8}});
// E inset
series.push({type: 'line', xAxisIndex: 12, yAxisIndex: 9, data: rateCdf, step: 'end', showSymbol: false, silent: true, z: 4,
  lineStyle: {color: '#333', width: 1.3}});
series.push({type: 'line', xAxisIndex: 12, yAxisIndex: 9, data: [[d55cMean, 0], [d55cMean, 1]], showSymbol: false, silent: true, z: 4,
  lineStyle: {color: RED, width: 2, type: 'dotted'}});

// Text labels
function txt(text, x, y, size, o) {
  o = o || {};
  return {type: 'text', x: x, y: y, rotation: o.rot ? Math.PI / 2 : 0, z: 100, silent: true,
    style: {text: text, x: 0, y: 0, fill: o.color || INK,
      font: (o.bold ? 'bold ' : '') + size + 'px ' + FONT,
      textAlign: o.align || 'left', textVerticalAlign: 'middle', align: o.align || 'left', verticalAlign: 'middle',
      lineHeight: size * 1.05}};
}
const C = {align: 'center'};
const R = {align: 'center', rot: true};
const graphic = [
  txt('A', 1, 20, 35, {bold: 1}),
  txt('CA1 LFP', 33, 24, 34),
  txt('D55c spikes', 35, 168, 34),
  txt('CA1 theta (3–6 Hz)', 35, 343, 34),
  txt('500 ms', 701, 469, 23, C),
  txt('B', 1, 497, 33, {bold: 1}),
  txt('D', 292, 497, 33, {bold: 1}),
  txt('C', 1, 767, 33, {bold: 1}),
  txt('E', 2, 1041, 33, {bold: 1}),
  txt('Spike count', 17, 612, 22, R),
  txt('Autocorrelogram (ms)', 157, 731, 22, C),
  txt('Mean vector length: 0.64', 177, 791, 19, C),
  txt('Spike count', 20, 891, 22, R),
  txt('CA1 theta phase (°)', 177, 1010, 22, C),
  txt('Firing\nprobability', 303, 590, 21, R),
  txt('SWR', 558, 535, 24, {align: 'center', color: RED}),
  txt('SWR index: 0.19', 600, 556, 22),
  txt('SWR number', 322, 816, 22, R),
  txt('Time from SWR peak (s)', 557, 1008, 22, C),
  txt('Cumulative distribution function', 21, 1246, 22, R),
  txt('Firing frequency (Hz)', 421, 1488, 22, C),
  txt('D55c mean frequency: 4.7 Hz', 134, 1310, 22),
  txt('Surrogate mean frequency: 3.19 Hz', 134, 1362, 22),
  txt('Firing probability', 534, 1252, 20, R),
  txt('Firing rate (Hz)', 670, 1366, 21, C)
];

chart.setOption({animation: false, backgroundColor: '#fff', textStyle: {fontFamily: FONT},
  grid: grid, xAxis: xAxis, yAxis: yAxis, series: series, graphic: graphic});
</script></body></html>
